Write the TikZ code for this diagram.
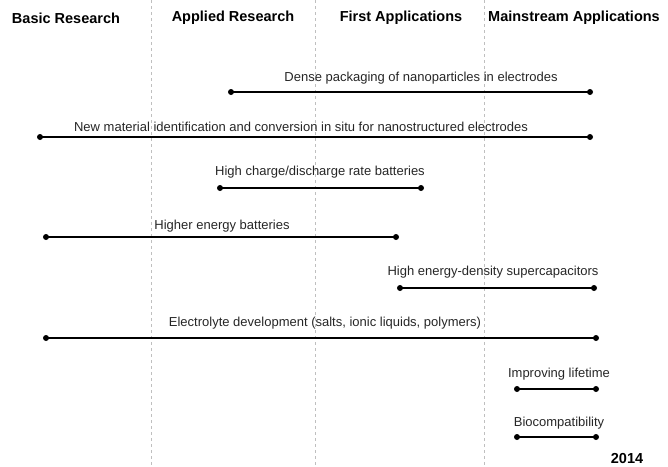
\documentclass[tikz,border=0pt]{standalone}
\usepackage{fontspec}
\setmainfont{Liberation Sans}
\usepackage{tikz}

\begin{document}
\begin{tikzpicture}[x=1pt, y=-1pt, thick,
    every node/.style={font=\fontsize{13}{15}\selectfont, text=black!85, inner sep=0pt},
    head/.style={font=\fontsize{14.5}{17}\selectfont\bfseries, text=black},
    bar/.style={line width=1.5pt},
    thinbar/.style={line width=1.1pt},
    phase/.style={gray!50, thin, dashed}]
      \useasboundingbox (0,0) rectangle (668,466);

      \draw[phase] (151,0) -- (151,466);
      \draw[phase] (315,0) -- (315,466);
      \draw[phase] (484,0) -- (484,466);

      \node[head] (basic) at (66,18) {Basic Research};
      \node[head] (applied) at (233,18) {Applied Research};
      \node[head] (first) at (401,18) {First Applications};
      \node[head] (main) at (574,18) {Mainstream Applications};

      \coordinate (dense-s) at (231,92);
      \coordinate (dense-e) at (590,92);
      \coordinate (mat-s) at (40,137);
      \coordinate (mat-e) at (590,137);
      \coordinate (rate-s) at (220,188);
      \coordinate (rate-e) at (421,188);
      \coordinate (energy-s) at (46,237);
      \coordinate (energy-e) at (396,237);
      \coordinate (cap-s) at (400,288);
      \coordinate (cap-e) at (594,288);
      \coordinate (elec-s) at (46,338);
      \coordinate (elec-e) at (596,338);
      \coordinate (life-s) at (517,389);
      \coordinate (life-e) at (596,389);
      \coordinate (bio-s) at (517,437);
      \coordinate (bio-e) at (596,437);

      \draw[bar] (dense-s) -- (dense-e);
      \draw[bar] (mat-s) -- (mat-e);
      \draw[bar] (rate-s) -- (rate-e);
      \draw[bar] (energy-s) -- (energy-e);
      \draw[bar] (cap-s) -- (cap-e);
      \draw[bar] (elec-s) -- (elec-e);
      \draw[thinbar] (life-s) -- (life-e);
      \draw[thinbar] (bio-s) -- (bio-e);

      % end points
      \foreach \p in {dense,mat,rate,energy,cap,elec,life,bio}
        \fill (\p-s) circle (3) (\p-e) circle (3);

      \node (dense) at (421,78) {Dense packaging of nanoparticles in electrodes};
      \node (mat) at (301,127) {New material identification and conversion in situ for nanostructured electrodes};
      \node (rate) at (320,172) {High charge/discharge rate batteries};
      \node (energy) at (222,226) {Higher energy batteries};
      \node (cap) at (493,272) {High energy-density supercapacitors};
      \node (elec) at (325,323) {Electrolyte development (salts, ionic liquids, polymers)};
      \node (life) at (559,374) {Improving lifetime};
      \node (bio) at (559,423) {Biocompatibility};

      \node[head] (year) at (627,458) {2014};
    \end{tikzpicture}
\end{document}
